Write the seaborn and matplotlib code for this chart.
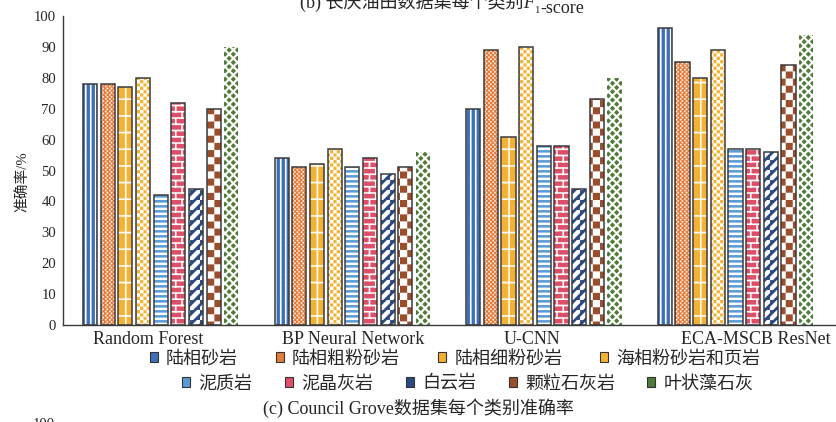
import warnings

import numpy as np
import pandas as pd
import matplotlib
matplotlib.use("Agg")
import matplotlib.pyplot as plt
from matplotlib import hatch as mhatch
from matplotlib.path import Path
from matplotlib.patches import Patch, Rectangle
from matplotlib.transforms import ScaledTranslation
import seaborn as sns

warnings.filterwarnings("ignore")

# ---------------------------------------------------------------- data
models = ["Random Forest", "BP Neural Network", "U-CNN", "ECA-MSCB ResNet"]
classes = ["陆相砂岩", "陆相粗粉砂岩", "陆相细粉砂岩", "海相粉砂岩和页岩",
           "泥质岩", "泥晶灰岩", "白云岩", "颗粒石灰岩", "叶状藻石灰"]
acc_rf = [78, 78, 77, 80, 42, 72, 44, 70, 90]
acc_bp = [54, 51, 52, 57, 51, 54, 49, 51, 56]
acc_ucnn = [70, 89, 61, 90, 58, 58, 44, 73, 80]
acc_eca = [96, 85, 80, 89, 57, 57, 56, 84, 94]
yticks = list(range(0, 101, 10))

colors = ["#3E70B9", "#E57B3A", "#F5B232", "#F5B232", "#5B9BD5",
          "#DE4E68", "#2C4A82", "#9B4E2B", "#4F7B38"]

df = pd.DataFrame({
    "model": np.repeat(models, len(classes)),
    "cls": classes * len(models),
    "acc": acc_rf + acc_bp + acc_ucnn + acc_eca,
})


# ------------------------------------------------ tiled fill patterns
def _ccw(poly):
    p = np.asarray(poly, float)
    x, y = p[:, 0], p[:, 1]
    area = np.sum(x * np.roll(y, -1) - np.roll(x, -1) * y)
    return p if area > 0 else p[::-1].copy()


def rect(x0, y0, x1, y1):
    return [(x0, y0), (x1, y0), (x1, y1), (x0, y1)]


def band(t, flip=False):
    pts = [(0, 0), (t, 0), (1, 1 - t), (1, 1), (1 - t, 1), (0, t)]
    if flip:
        pts = [(1 - x, y) for x, y in pts]
    return pts


def make_tile(symbol, per_inch, polys):
    polys = [_ccw(p) for p in polys]
    nv = sum(len(p) + 1 for p in polys)

    class Tile(mhatch.HatchPatternBase):
        def __init__(self, hatch, density):
            self.n = hatch.count(symbol) * per_inch
            self.num_vertices = self.n * self.n * nv

        def set_vertices_and_codes(self, vertices, codes):
            step = 1.0 / self.n
            i = 0
            for r in range(self.n):
                for c in range(self.n):
                    for p in polys:
                        k = len(p)
                        vertices[i:i + k] = (p + (c, r)) * step
                        vertices[i + k] = vertices[i]
                        codes[i] = Path.MOVETO
                        codes[i + 1:i + k] = Path.LINETO
                        codes[i + k] = Path.CLOSEPOLY
                        i += k + 1

    mhatch._hatch_types.append(Tile)


s = 0.17
make_tile("a", 20, [rect(0, 0, 0.3, 1)])                       # vertical stripes
make_tile("b", 12, [rect(x, y, x + s, y + s) for x, y in
                    [(0.1, 0.05), (0.3, 0.3), (0.1, 0.55), (0.3, 0.8),
                     (0.6, 0.05), (0.8, 0.3), (0.6, 0.55), (0.8, 0.8)]])
make_tile("c", 6, [rect(0, 0, 1, 0.09), rect(0, 0, 0.09, 1),
                   rect(0.5, 0, 0.59, 1)])                     # grid
make_tile("d", 15, [rect(0, 0, .5, .5), rect(.5, .5, 1, 1)])   # fine checker
make_tile("e", 20, [rect(0, 0, 1, 0.45)])                      # horizontal stripes
make_tile("f", 8, [rect(0, 0, 1, 0.12), rect(0, 0.5, 1, 0.62),
                   rect(0, 0, 0.12, 0.5), rect(0.5, 0.5, 0.62, 1)])  # bricks
make_tile("g", 10, [band(0.3)])                                # diagonal bands
make_tile("h", 7, [rect(0, 0, .5, .5), rect(.5, .5, 1, 1)])    # coarse checker
make_tile("k", 12, [band(0.17), band(0.17, flip=True)])        # lattice

hatches = ["a", "b", "c", "d", "e", "f", "g", "h", "k"]
outlined = [True] * 8 + [False]

# ---------------------------------------------------------------- style
sns.set_style("white")
plt.rcParams["font.family"] = ["Liberation Serif", "Noto Sans CJK SC"]
plt.rcParams["hatch.linewidth"] = 0.1
fs_tick = 10.6
fs_big = 13
edge = "#3a3a3a"

fig = plt.figure(figsize=(8.37, 4.22), dpi=100)
ax = fig.add_axes([63 / 837, 1 - 325 / 422, 1 - 63 / 837, (325 - 16) / 422])

sns.barplot(data=df, x="model", y="acc", hue="cls", order=models,
            hue_order=classes, palette=colors, saturation=1, width=0.83,
            gap=0.2, legend=False, ax=ax)

for cont, h, out in zip(ax.containers, hatches, outlined):
    for bar in cont:
        bar.set_hatch(h)
        bar.set_edgecolor("white")
        bar.set_linewidth(0)
        if out:
            ax.add_patch(Rectangle(bar.get_xy(), bar.get_width(),
                                   bar.get_height(), fill=False, ec=edge,
                                   lw=1.1, zorder=bar.get_zorder() + 0.1))

ax.set_ylim(0, 100)
ax.set_xlim(-0.51, 3.53)
ax.set_yticks(yticks)
ax.set_xlabel("")
ax.set_ylabel("准确率/%", fontsize=fs_tick)
ax.yaxis.set_label_coords(-0.044, 0.463)
for side in ["top", "right"]:
    ax.spines[side].set_visible(False)
for side in ["left", "bottom"]:
    ax.spines[side].set_color(edge)
    ax.spines[side].set_linewidth(1.0)
ax.tick_params(axis="y", direction="in", length=5, width=1, color=edge,
               labelsize=fs_tick, pad=5)
ax.tick_params(axis="x", length=0, labelsize=fs_big, pad=4)

# category names sit slightly off their group centres
label_shift_px = [-13, 1, -12, 20]
for lab, dx in zip(ax.get_xticklabels(), label_shift_px):
    lab.set_transform(lab.get_transform()
                      + ScaledTranslation(dx / 100, 0, fig.dpi_scale_trans))

# ---------------------------------------------------------------- legend
handles = [Patch(facecolor=c, edgecolor="#333333", lw=0.8) for c in colors]
leg_kw = dict(loc="center", frameon=False, handlelength=0.45,
              handleheight=0.45, handletextpad=0.45, fontsize=fs_big,
              borderaxespad=0, borderpad=0)
fig.legend(handles[:4], classes[:4], ncol=4, columnspacing=2.1,
           bbox_to_anchor=(455 / 837, 1 - 359 / 422), **leg_kw)
fig.legend(handles[4:], classes[4:], ncol=5, columnspacing=1.8,
           bbox_to_anchor=(468 / 837, 1 - 384 / 422), **leg_kw)

fig.text(0.5, 1 - 408 / 422, "(c) Council Grove数据集每个类别准确率",
         ha="center", va="center", fontsize=fs_big)

# neighbouring panel captions, cut by the figure edge
t1 = fig.text(300 / 837, 1 - 8 / 422, "(b) 长庆油田数据集每个类别",
              ha="left", va="baseline", fontsize=fs_big)
t2 = ax.annotate("F", xy=(1, 0.22), xycoords=t1, ha="left", va="baseline",
                 fontsize=fs_big, style="italic", annotation_clip=False)
t3 = ax.annotate("1", xy=(1, -0.05), xycoords=t2, ha="left", va="baseline",
                 fontsize=fs_big * 0.6, annotation_clip=False)
ax.annotate("-score", xy=(1, 0.2), xycoords=t3, ha="left", va="baseline",
            fontsize=fs_big, annotation_clip=False)
fig.text(55 / 837, 1 - 418 / 422, "100", ha="right", va="top",
         fontsize=fs_tick)

fig.savefig("out.png", dpi=100)
